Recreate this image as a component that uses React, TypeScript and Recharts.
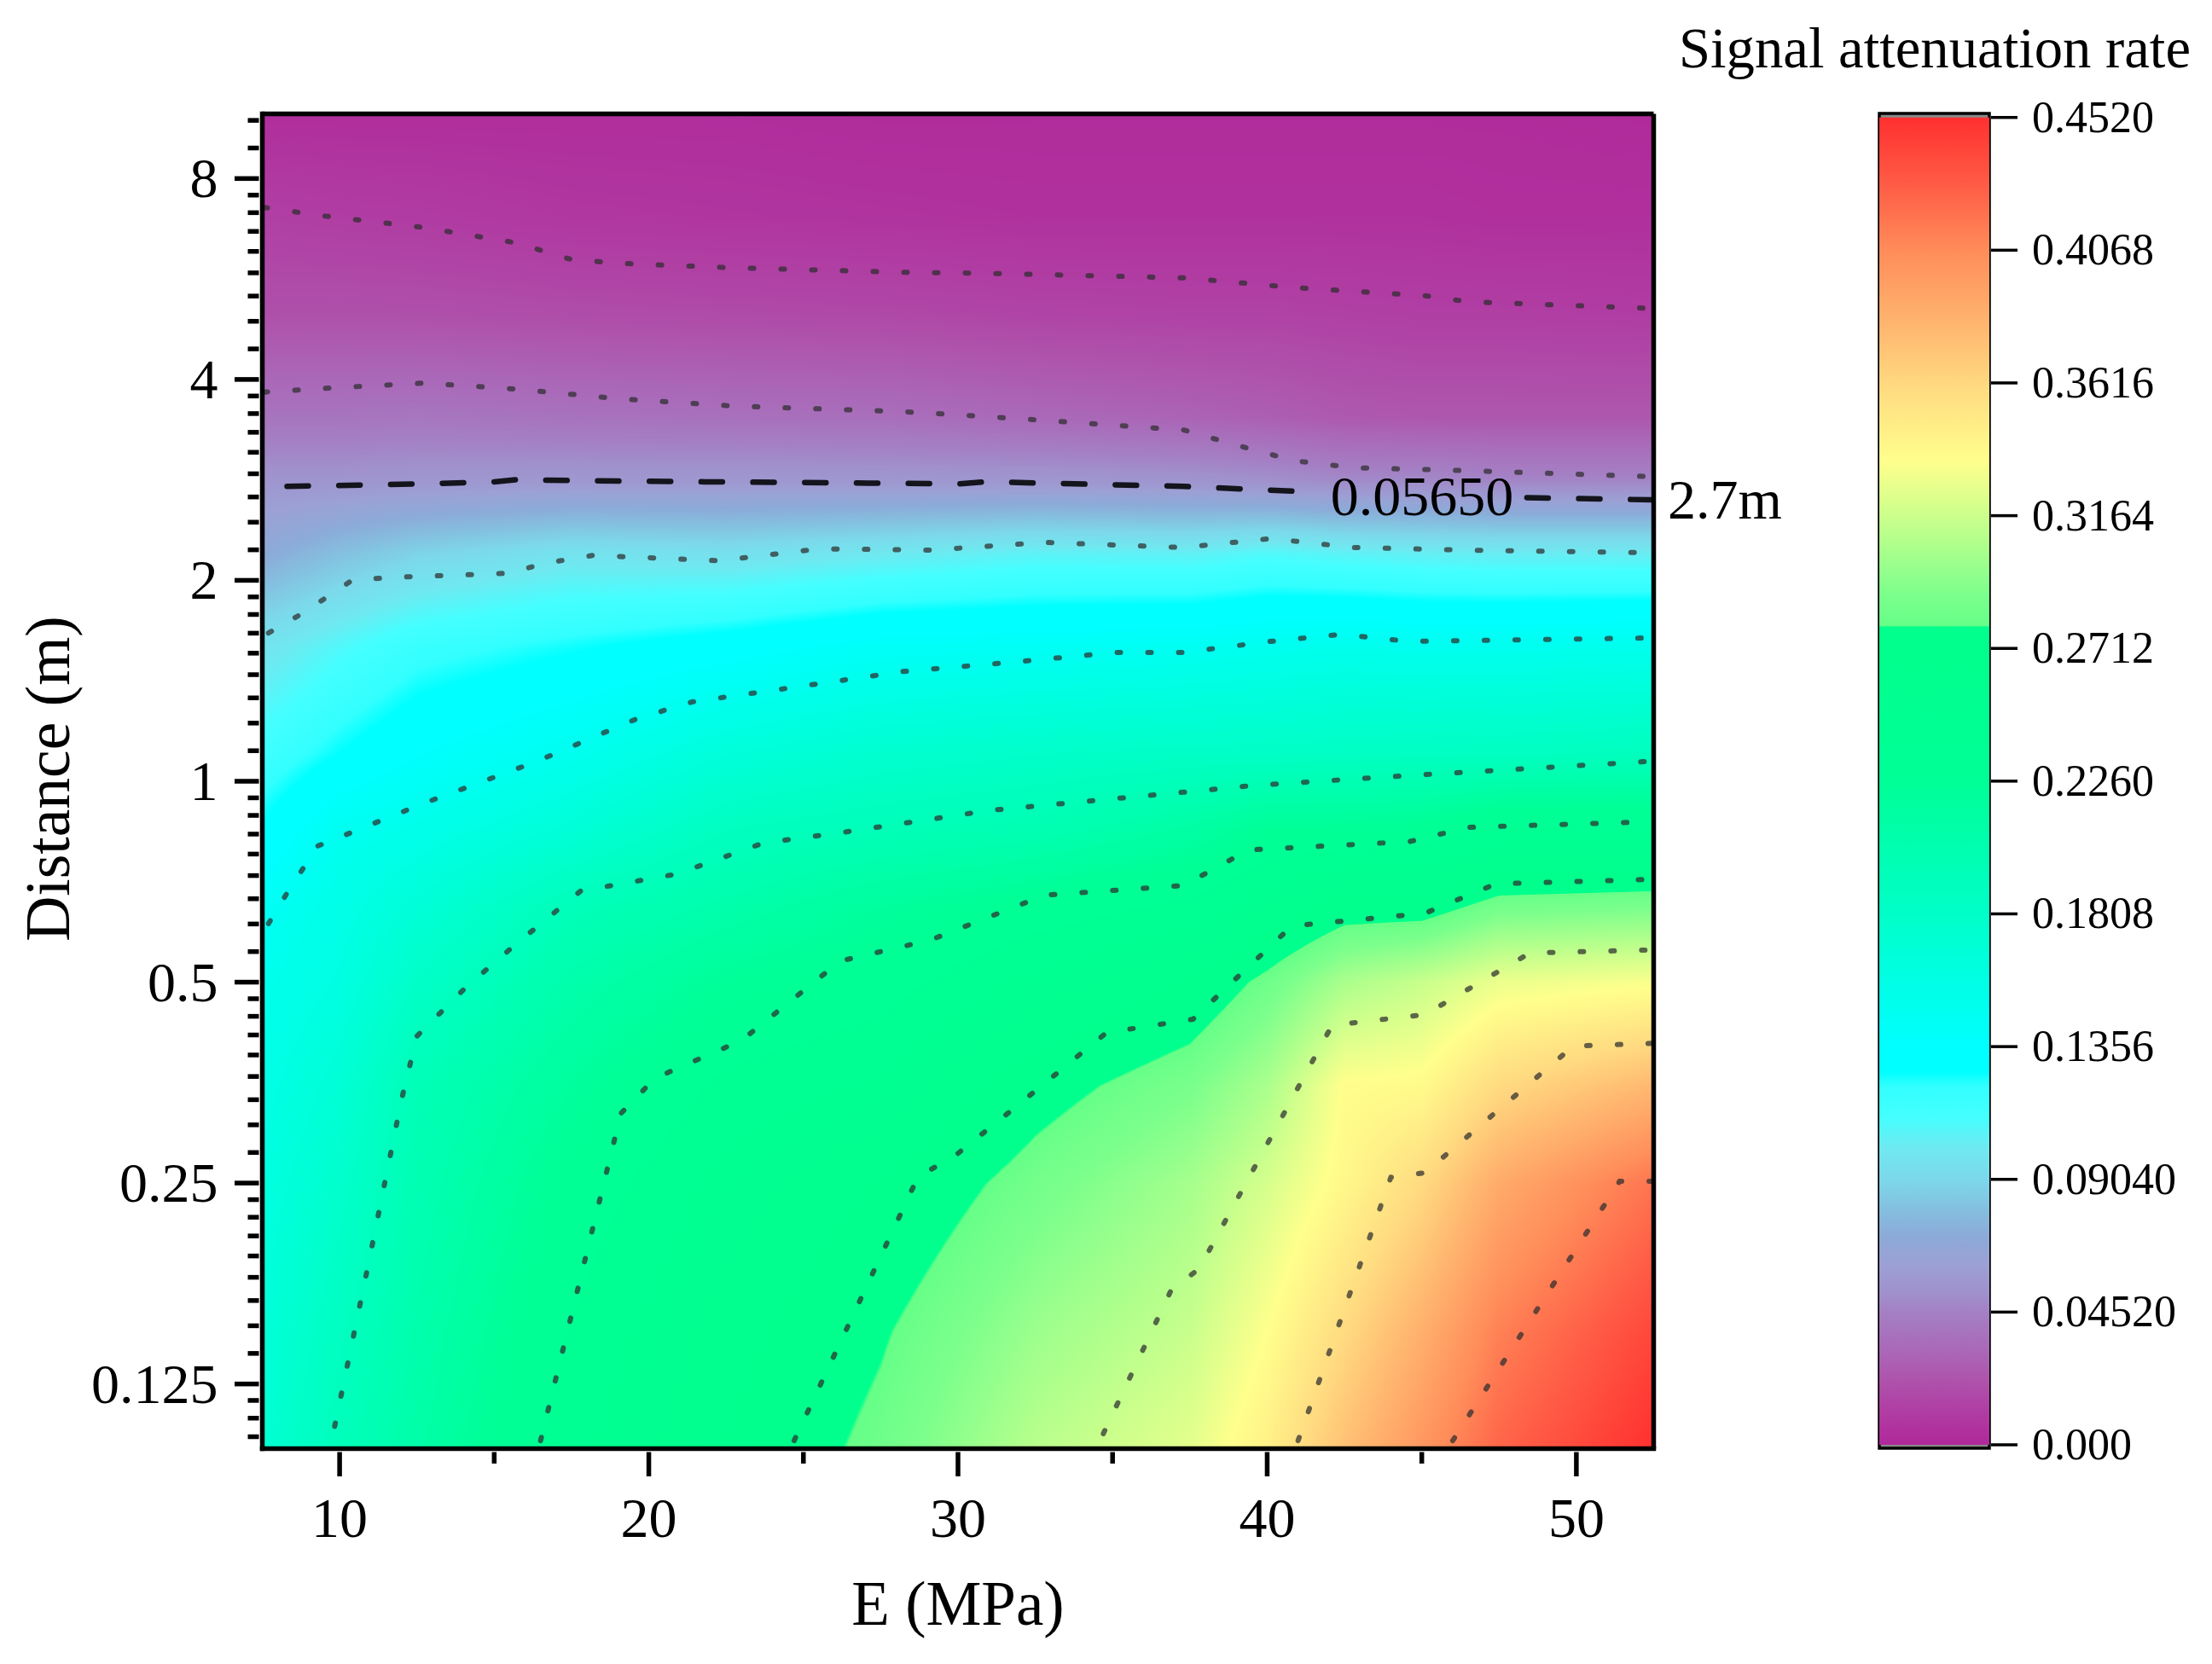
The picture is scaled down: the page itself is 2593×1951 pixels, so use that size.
import React from "react";
import {
  ComposedChart, BarChart, Bar, Scatter, Line, XAxis, YAxis, ReferenceLine, ReferenceArea,
} from "recharts";

const FONT = "'Liberation Serif', 'Times New Roman', serif";

// ---- heat grid: distance rows (top to bottom), one column of attenuation values per E
const D_ROWS = [10, 7, 5, 3.5, 2.8, 2.2, 1.6, 1.1, 0.85, 0.65, 0.5, 0.35, 0.25, 0.15, 0.1];
const E_COLS = [7.5, 10, 12.5, 17.5, 22.5, 27.5, 32.5, 37.5, 40, 42.5, 45, 47.5, 52.5];
const col_07_5 = [0.003, 0.0125, 0.0205, 0.039, 0.055, 0.07, 0.097, 0.115, 0.128, 0.144, 0.15, 0.156, 0.161, 0.167, 0.172];
const col_10_0 = [0.003, 0.0113, 0.021, 0.039, 0.055, 0.08, 0.108, 0.127, 0.147, 0.155, 0.16, 0.17, 0.177, 0.187, 0.193];
const col_12_5 = [0.003, 0.0105, 0.0205, 0.04, 0.056, 0.088, 0.118, 0.137, 0.153, 0.168, 0.181, 0.196, 0.2, 0.206, 0.21];
const col_17_5 = [0.003, 0.008, 0.019, 0.038, 0.057, 0.097, 0.125, 0.149, 0.168, 0.194, 0.207, 0.22, 0.23, 0.238, 0.244];
const col_22_5 = [0.003, 0.007, 0.018, 0.037, 0.057, 0.095, 0.132, 0.166, 0.188, 0.207, 0.224, 0.24, 0.25, 0.26, 0.265];
const col_27_5 = [0.002, 0.006, 0.017, 0.036, 0.0565, 0.1, 0.141, 0.175, 0.195, 0.22, 0.232, 0.248, 0.265, 0.277, 0.283];
const col_32_5 = [0.002, 0.005, 0.015, 0.033, 0.0565, 0.105, 0.143, 0.18, 0.2, 0.23, 0.25, 0.272, 0.285, 0.3, 0.31];
const col_37_5 = [0.002, 0.005, 0.014, 0.03, 0.055, 0.104, 0.145, 0.183, 0.213, 0.24, 0.265, 0.288, 0.303, 0.315, 0.325];
const col_40_0 = [0.002, 0.005, 0.014, 0.028, 0.053, 0.108, 0.148, 0.183, 0.225, 0.255, 0.283, 0.305, 0.32, 0.335, 0.345];
const col_42_5 = [0.002, 0.005, 0.013, 0.025, 0.05, 0.105, 0.15, 0.185, 0.225, 0.27, 0.305, 0.336, 0.34, 0.36, 0.375];
const col_45_0 = [0.002, 0.005, 0.012, 0.024, 0.05, 0.103, 0.148, 0.186, 0.228, 0.27, 0.315, 0.338, 0.36, 0.385, 0.4];
const col_47_5 = [0.002, 0.004, 0.012, 0.024, 0.048, 0.102, 0.148, 0.187, 0.239, 0.285, 0.328, 0.36, 0.388, 0.412, 0.425];
const col_52_5 = [0.001, 0.004, 0.011, 0.024, 0.048, 0.102, 0.15, 0.19, 0.24, 0.288, 0.333, 0.38, 0.418, 0.44, 0.452];
const HEAT_COLS = [col_07_5, col_10_0, col_12_5, col_17_5, col_22_5, col_27_5, col_32_5, col_37_5, col_40_0, col_42_5, col_45_0, col_47_5, col_52_5];

// ---- colour scale
const CB_VALUES = [0, 0.0128, 0.0224, 0.0322, 0.0452, 0.0514, 0.0613, 0.0709, 0.0805, 0.0904, 0.1008, 0.1115, 0.122, 0.127, 0.1356, 0.1808, 0.226, 0.2712, 0.2785, 0.279, 0.2895, 0.30, 0.3164, 0.335, 0.3616, 0.38, 0.4068, 0.43, 0.452];
const CB_COLORS = ["#B0289A", "#B040A4", "#AE54AC", "#AA68B8", "#A480C4", "#A090CC", "#9CA0D4", "#8CAAD8", "#84C0E0", "#7CD8EA", "#70E8F0", "#44FFFF", "#33FFFF", "#00FFFF", "#00FFFF", "#00FFC8", "#00FF96", "#00FF8C", "#00FF8C", "#66FF88", "#7CFF8C", "#9CFF8C", "#CCFF8C", "#FFFF8C", "#FFD880", "#FFB870", "#FF8C5A", "#FF5A44", "#FF3030"];
const CB_TICKS = [0, 0.0452, 0.0904, 0.1356, 0.1808, 0.226, 0.2712, 0.3164, 0.3616, 0.4068, 0.452];
const CB_LABELS = ["0.000", "0.04520", "0.09040", "0.1356", "0.1808", "0.2260", "0.2712", "0.3164", "0.3616", "0.4068", "0.4520"];
const CB_BAR = [{ name: "scale", range: [0, 0.452] }];

// ---- contour lines: [E, distance]
const contour1 = [[7.56, 7.24], [9.5, 7.03], [12.7, 6.76], [15.7, 6.41], [17.5, 6.05], [19.1, 5.97], [22.7, 5.88], [28.2, 5.79], [30.9, 5.77], [37.3, 5.68], [40.9, 5.49], [45.1, 5.34], [46.5, 5.23], [52.5, 5.11]];
const contour2 = [[7.56, 3.83], [10, 3.89], [12.7, 3.95], [15.7, 3.87], [19.1, 3.74], [22.7, 3.65], [28.2, 3.58], [30.9, 3.52], [34.1, 3.44], [37.3, 3.36], [39.1, 3.18], [40.9, 3.02], [42.8, 2.95], [46.5, 2.92], [52.5, 2.86]];
const contour3a = [[8.3, 2.766], [12.7, 2.79], [15, 2.81], [15.7, 2.83], [18.2, 2.82], [21.8, 2.81], [30, 2.79], [30.9, 2.81], [37.3, 2.766], [41.7, 2.71]];
const contour3b = [[48.4, 2.66], [52.5, 2.64]];
const contour4 = [[7.7, 1.668], [8.8, 1.785], [10.4, 2.0], [11.6, 2.02], [15.5, 2.05], [16.6, 2.12], [18.2, 2.18], [22.3, 2.14], [25.5, 2.23], [29.1, 2.22], [32.8, 2.28], [37.3, 2.24], [40.1, 2.31], [42.8, 2.24], [46.5, 2.22], [52.5, 2.2]];
const contour5 = [[7.7, 0.612], [8.4, 0.692], [9.3, 0.8], [12.7, 0.926], [16.4, 1.072], [19.6, 1.24], [21.4, 1.315], [25.5, 1.4], [28.2, 1.46], [31.9, 1.51], [35.1, 1.56], [37.3, 1.56], [40.1, 1.62], [42.4, 1.66], [44.6, 1.62], [52.5, 1.64]];
const contour6 = [[9.84, 0.108], [10.9, 0.186], [12, 0.333], [12.5, 0.415], [14.1, 0.492], [15.7, 0.57], [17.8, 0.685], [20.9, 0.726], [23.7, 0.808], [26.4, 0.84], [31, 0.904], [37.3, 0.963], [39.6, 0.986], [44.6, 1.02], [52.5, 1.072]];
const contour7 = [[16.5, 0.1028], [19.1, 0.318], [20.2, 0.359], [23, 0.409], [26.2, 0.538], [29.1, 0.578], [32.8, 0.675], [37.3, 0.698], [39.4, 0.789], [44.6, 0.812], [46.5, 0.853], [52.5, 0.87]];
const contour8 = [[24.7, 0.1028], [28.7, 0.255], [30, 0.277], [31.9, 0.326], [34.8, 0.42], [37.6, 0.44], [39.2, 0.517], [40.8, 0.607], [45.1, 0.634], [47.4, 0.702], [52.5, 0.713]];
const contour9 = [[34.7, 0.1053], [36.9, 0.173], [37.8, 0.186], [42.1, 0.431], [45.1, 0.447], [48.5, 0.553], [52.5, 0.559]];
const contour10 = [[41, 0.1028], [44, 0.255], [45.1, 0.259], [49.9, 0.401], [52.5, 0.405]];
const contour11 = [[46, 0.1028], [51.4, 0.2515], [52.5, 0.2515]];
const DOTTED = [contour1, contour2, contour4, contour5, contour6, contour7, contour8, contour9, contour10, contour11];
const DASHED = [contour3a, contour3b];

// ---- axes
const X_MAJOR = [10, 20, 30, 40, 50];
const X_TICKS = [10, 15, 20, 25, 30, 35, 40, 45, 50];
const Y_MAJOR = [0.125, 0.25, 0.5, 1, 2, 4, 8];
const Y_MINOR = [0.1042, 0.1111, 0.1181, 0.1389, 0.1528, 0.1667, 0.1806, 0.1944, 0.2083, 0.2222, 0.2361,
  0.2778, 0.3056, 0.3333, 0.3611, 0.3889, 0.4167, 0.4444, 0.4722, 0.5556, 0.6111, 0.6667, 0.7222, 0.7778, 0.8333, 0.8889, 0.9444,
  1.1111, 1.2222, 1.3333, 1.4444, 1.5556, 1.6667, 1.7778, 1.8889, 2.2222, 2.4444, 2.6667, 2.8889, 3.1111, 3.3333, 3.5556, 3.7778,
  4.4444, 4.8889, 5.3333, 5.7778, 6.2222, 6.6667, 7.1111, 7.5556, 8.8889, 9.7778];

// ---- layout
const W = 2593, H = 1951;
const PL = 307.5, PR = 1938.5, PT = 133.5, PB = 1698.5;
const E_MIN = 7.5, E_MAX = 52.5, D_MIN = 0.1, D_MAX = 10;
const PX_PER_E = (PR - PL) / (E_MAX - E_MIN);
const PX_PER_DECADE = (PB - PT) / (Math.log10(D_MAX) - Math.log10(D_MIN));
const SPINE = 5.5;

const heatNodes = E_COLS.flatMap((E, i) => D_ROWS.map((d, j) => ({ E, d, i, j, v: HEAT_COLS[i][j] })));
const toPoints = (c: number[][]) => c.map(([E, d]) => ({ E, d }));

function hexRgb(h: string) {
  return [parseInt(h.slice(1, 3), 16), parseInt(h.slice(3, 5), 16), parseInt(h.slice(5, 7), 16)];
}
const RGB = CB_COLORS.map(hexRgb);
const LUT_N = 4096;
const LUT = (() => {
  const out = new Uint8Array(LUT_N * 3);
  let s = 0;
  for (let k = 0; k < LUT_N; k++) {
    const v = (k / (LUT_N - 1)) * 0.452;
    while (s < CB_VALUES.length - 2 && v > CB_VALUES[s + 1]) s++;
    const t = Math.max(0, Math.min(1, (v - CB_VALUES[s]) / (CB_VALUES[s + 1] - CB_VALUES[s])));
    for (let c = 0; c < 3; c++) out[k * 3 + c] = Math.round(RGB[s][c] + (RGB[s + 1][c] - RGB[s][c]) * t);
  }
  return out;
})();

function patchUrl(i: number, j: number, wpx: number, hpx: number, dx: number, dy: number, w: number, h: number) {
  const cv = document.createElement("canvas");
  cv.width = wpx; cv.height = hpx;
  const ctx = cv.getContext("2d")!;
  const img = ctx.createImageData(wpx, hpx);
  const a = HEAT_COLS[i][j], b = HEAT_COLS[i + 1][j], c = HEAT_COLS[i][j + 1], e = HEAT_COLS[i + 1][j + 1];
  for (let py = 0; py < hpx; py++) {
    const t = Math.max(0, Math.min(1, (py + 0.5 + dy) / h));
    for (let px = 0; px < wpx; px++) {
      const u = Math.max(0, Math.min(1, (px + 0.5 + dx) / w));
      const val = (1 - t) * ((1 - u) * a + u * b) + t * ((1 - u) * c + u * e);
      const k = Math.max(0, Math.min(LUT_N - 1, Math.round((val / 0.452) * (LUT_N - 1))));
      const o = (py * wpx + px) * 4;
      img.data[o] = LUT[k * 3]; img.data[o + 1] = LUT[k * 3 + 1]; img.data[o + 2] = LUT[k * 3 + 2]; img.data[o + 3] = 255;
    }
  }
  ctx.putImageData(img, 0, 0);
  return cv.toDataURL("image/png");
}

const patchCache: Record<string, string> = {};
function HeatCell(props: any) {
  const { cx, cy, payload } = props;
  const { i, j } = payload;
  if (i >= E_COLS.length - 1 || j >= D_ROWS.length - 1) return null;
  const w = (E_COLS[i + 1] - E_COLS[i]) * PX_PER_E;
  const h = (Math.log10(D_ROWS[j]) - Math.log10(D_ROWS[j + 1])) * PX_PER_DECADE;
  const x0 = Math.round(cx), x1 = Math.round(cx + w), y0 = Math.round(cy), y1 = Math.round(cy + h);
  const key = `${i}-${j}`;
  if (!patchCache[key]) patchCache[key] = patchUrl(i, j, x1 - x0, y1 - y0, x0 - cx, y0 - cy, w, h);
  return <image href={patchCache[key]} x={x0} y={y0} width={x1 - x0} height={y1 - y0} preserveAspectRatio="none" />;
}

const XTick = (props: any) => {
  const { x, y, payload } = props;
  const major = X_MAJOR.includes(payload.value);
  return (
    <g>
      <line x1={x} x2={x} y1={y + 2} y2={y + (major ? 30.5 : 15.5)} stroke="#000" strokeWidth={SPINE} />
      {major && <text x={x} y={1802} textAnchor="middle" fontFamily={FONT} fontSize={66} fill="#000">{payload.value}</text>}
    </g>
  );
};
const YTick = (props: any) => {
  const { x, y, payload } = props;
  const major = Y_MAJOR.includes(payload.value);
  return (
    <g>
      <line x1={x - 2} x2={x - (major ? 30.5 : 15)} y1={y} y2={y} stroke="#000" strokeWidth={SPINE} />
      {major && <text x={x - 50} y={y + 22} textAnchor="end" fontFamily={FONT} fontSize={66} fill="#000">{payload.value}</text>}
    </g>
  );
};
const CbTick = (props: any) => {
  const { x, y, index } = props;
  return (
    <g>
      <line x1={x} x2={x + 31} y1={y} y2={y} stroke="#000" strokeWidth={3.5} />
      <text x={x + 48} y={y + 17} fontFamily={FONT} fontSize={52} fill="#000">{CB_LABELS[index]}</text>
    </g>
  );
};

export default function App() {
  return (
    <div style={{ position: "absolute", left: 0, top: 0, width: W, height: H, background: "#fff", overflow: "hidden" }}>
      <div style={{ position: "absolute", left: 0, top: 0 }}>
        <ComposedChart width={W} height={H} data={heatNodes}
          margin={{ left: PL - 200, right: W - PR, top: PT, bottom: H - PB - 200 }}>
          <XAxis dataKey="E" type="number" domain={[E_MIN, E_MAX]} ticks={X_TICKS} interval={0} height={200} allowDataOverflow
            tickLine={false} tickSize={0} tick={<XTick />} axisLine={{ stroke: "#000", strokeWidth: SPINE, strokeLinecap: "square" }} />
          <YAxis dataKey="d" type="number" scale="log" domain={[D_MIN, D_MAX]} ticks={[...Y_MAJOR, ...Y_MINOR]} interval={0} width={200} allowDataOverflow
            tickLine={false} tickSize={0} tick={<YTick />} axisLine={{ stroke: "#000", strokeWidth: SPINE, strokeLinecap: "square" }} />
          <Scatter data={heatNodes} dataKey="d" shape={<HeatCell />} isAnimationActive={false} legendType="none" zIndex={-100} />
          {DOTTED.map((c, k) => (
            <Line key={k} data={toPoints(c)} dataKey="d" type="linear" dot={false} activeDot={false} isAnimationActive={false}
              stroke="#2d2d2d" strokeOpacity={0.72} strokeWidth={6} strokeDasharray="4 32" strokeLinecap="round" />
          ))}
          {DASHED.map((c, k) => (
            <Line key={`d${k}`} data={toPoints(c)} dataKey="d" type="linear" dot={false} activeDot={false} isAnimationActive={false}
              stroke="#14141c" strokeWidth={6.5} strokeDasharray="25 35.7" strokeLinecap="round" />
          ))}
          <ReferenceLine x={E_MAX} stroke="#000" strokeWidth={SPINE} ifOverflow="visible" />
          <ReferenceLine y={D_MAX} stroke="#000" strokeWidth={SPINE} ifOverflow="visible" />
          <text x={1667} y={604} textAnchor="middle" fontFamily={FONT} fontSize={66} fill="#000">0.05650</text>
          <text x={1955} y={608} fontFamily={FONT} fontSize={66} fill="#000">2.7m</text>
          <text x={1123} y={1905} textAnchor="middle" fontFamily={FONT} fontSize={73} fill="#000">E (MPa)</text>
          <text transform="translate(81,913) rotate(-90)" textAnchor="middle" fontFamily={FONT} fontSize={73.5} fill="#000">Distance (m)</text>
        </ComposedChart>
      </div>
      <div style={{ position: "absolute", left: 1950, top: 0 }}>
        <BarChart width={643} height={H} data={CB_BAR} barCategoryGap={0}
          margin={{ left: 253, right: 61, top: 133, bottom: H - 1698 }}>
          <defs>
            <linearGradient id="cbGrad" x1="0" y1="1" x2="0" y2="0">
              {CB_VALUES.map((v, k) => <stop key={k} offset={v / 0.452} stopColor={CB_COLORS[k]} />)}
            </linearGradient>
          </defs>
          <XAxis dataKey="name" hide />
          <YAxis orientation="right" type="number" domain={[-0.00116, 0.45337]} ticks={CB_TICKS} interval={0} width={200} allowDataOverflow
            axisLine={false} tickLine={false} tickSize={0} tick={<CbTick />} />
          <ReferenceArea y1={-0.00116} y2={0.45337} fill="#888" fillOpacity={1} stroke="none" ifOverflow="visible" />
          <Bar dataKey="range" fill="url(#cbGrad)" isAnimationActive={false} />
          <ReferenceArea y1={-0.00116} y2={0.45337} fill="none" stroke="#000" strokeWidth={3.5} ifOverflow="visible" />
          <text x={18} y={79} fontFamily={FONT} fontSize={66.7} fill="#000">Signal attenuation rate</text>
        </BarChart>
      </div>
    </div>
  );
}
